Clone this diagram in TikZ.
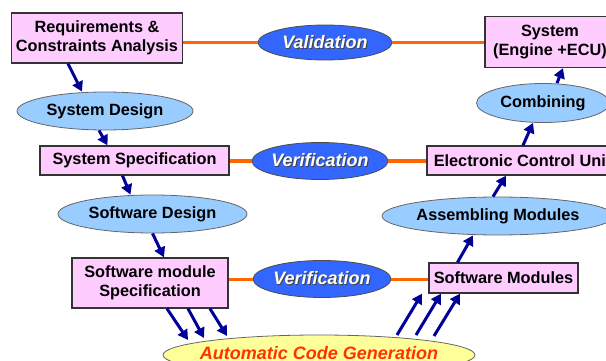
\documentclass[tikz,border=0pt]{standalone}
\usepackage{fontspec}
\setmainfont{Liberation Sans}
\usetikzlibrary{shapes.geometric,arrows.meta}

\definecolor{boxpink}{HTML}{FFCCFF}
\definecolor{stepblue}{HTML}{99CCFF}
\definecolor{checkblue}{HTML}{3366FF}
\definecolor{genyellow}{HTML}{FFFF99}
\definecolor{genred}{HTML}{FF3300}
\definecolor{linkorange}{HTML}{FF6600}
\definecolor{flownavy}{HTML}{000099}
\definecolor{edgegray}{HTML}{333333}

% label of zero width, so the ellipse keeps its own size
\newcommand{\fixedlabel}[1]{\makebox[0pt][c]{#1}}
% white label with a soft dark drop shadow
\newcommand{\shadowlabel}[1]{\fixedlabel{%
  \rlap{\raisebox{-0.9pt}{\hspace{0.9pt}\color{black!75}#1}}\color{white}#1}}

\tikzset{
  stagebox/.style={draw=edgegray, line width=1.3pt, fill=boxpink, align=center,
    inner sep=0pt, font=\fontsize{16.3}{19.5}\selectfont\bfseries},
  activity/.style={ellipse, draw=black!60, line width=0.8pt, fill=stepblue,
    inner sep=0pt, font=\fontsize{16.3}{19.5}\selectfont\bfseries},
  checkpoint/.style={ellipse, draw=black!70, line width=0.8pt, fill=checkblue,
    inner sep=0pt, font=\fontsize{18}{21}\selectfont\bfseries\itshape},
  generator/.style={ellipse, draw=black!60, line width=0.8pt, fill=genyellow,
    inner sep=0pt, text=genred, font=\fontsize{18}{21}\selectfont\bfseries\itshape},
  link/.style={linkorange, line width=3pt},
  flow/.style={flownavy, line width=3pt, -{Triangle[width=11pt,length=10pt]}},
}

\begin{document}
\begin{tikzpicture}[x=1pt,y=-1pt]
\useasboundingbox (0,0) rectangle (606,361);

% left branch: specification
\node[stagebox, minimum width=171pt, minimum height=50pt] (req) at (97,38)
  {Requirements \&\\Constraints Analysis};
\node[activity, minimum width=176pt, minimum height=38pt] (sdes) at (105,111) {\fixedlabel{System Design}};
\node[stagebox, minimum width=189pt, minimum height=29pt] (sspec) at (134.5,160.5) {System Specification};
\node[activity, minimum width=189pt, minimum height=38pt] (swdes) at (152.5,214) {\fixedlabel{Software Design}};
\node[stagebox, minimum width=156pt, minimum height=50pt] (swms) at (150,283)
  {Software module\\Specification};

% bottom: code generation
\node[generator, minimum width=312pt, minimum height=40pt] (acg) at (319,355)
  {\fixedlabel{\raisebox{5pt}{Automatic Code Generation}}};

% right branch: integration
\node[stagebox, minimum width=149pt, minimum height=30pt] (swm) at (503.5,278) {Software Modules};
\node[activity, minimum width=232pt, minimum height=38pt] (asm) at (498,216) {\fixedlabel{Assembling Modules}};
\node[stagebox, minimum width=188pt, minimum height=29pt] (ecu) at (521,160.5) {\hspace*{3pt}Electronic Control Unit};
\node[activity, minimum width=133pt, minimum height=39pt] (comb) at (543,103) {\fixedlabel{Combining}};
\node[stagebox, minimum width=130pt, minimum height=51pt] (sys) at (550,42)
  {System\\(Engine +ECU)};

% checkpoints between the two branches
\node[checkpoint, minimum width=134pt, minimum height=35pt] (val) at (325,42.5) {\shadowlabel{Validation}};
\node[checkpoint, minimum width=136pt, minimum height=37pt] (ver1) at (320,161) {\shadowlabel{Verification}};
\node[checkpoint, minimum width=138pt, minimum height=37pt] (ver2) at (322,279) {\shadowlabel{Verification}};

% orange links
\draw[link] (val.west) -- (val.west -| req.east);
\draw[link] (val.east) -- (val.east -| sys.west);
\draw[link] (ver1.west) -- (ver1.west -| sspec.east);
\draw[link] (ver1.east) -- (ver1.east -| ecu.west);
\draw[link] (ver2.west) -- (ver2.west -| swms.east);
\draw[link] (ver2.east) -- (ver2.east -| swm.west);

% downward flow
\draw[flow] ([xshift=-29pt]req.south) -- ([xshift=-23pt]sdes.north);
\draw[flow] ([xshift=-6pt]sdes.south) -- ([xshift=-27pt]sspec.north);
\draw[flow] ([xshift=-12pt]sspec.south) -- ([xshift=-22pt]swdes.north);
\draw[flow] (swdes.south) -- ([xshift=14pt]swms.north);
\draw[flow] ([xshift=17pt]swms.south) -- ([xshift=-131pt,yshift=15pt]acg.center);
\draw[flow] ([xshift=38pt]swms.south) -- ([xshift=-115pt,yshift=17pt]acg.center);
\draw[flow] ([xshift=60pt]swms.south) -- ([xshift=-92pt,yshift=19pt]acg.center);

% upward flow
\draw[flow] ([xshift=78pt,yshift=20pt]acg.center) -- ([xshift=-81.5pt]swm.south);
\draw[flow] ([xshift=97pt,yshift=20pt]acg.center) -- ([xshift=-62.5pt]swm.south);
\draw[flow] ([xshift=115pt,yshift=19pt]acg.center) -- ([xshift=-43.5pt]swm.south);
\draw[flow] ([xshift=-46pt]swm.north) -- ([xshift=-25pt]asm.south);
\draw[flow] ([xshift=-5pt]asm.north) -- ([xshift=-15pt]ecu.south);
\draw[flow] ([xshift=2pt]ecu.north) -- ([xshift=-10pt]comb.south);
\draw[flow] ([xshift=14pt]comb.north) -- ([xshift=13pt]sys.south);
\end{tikzpicture}
\end{document}
